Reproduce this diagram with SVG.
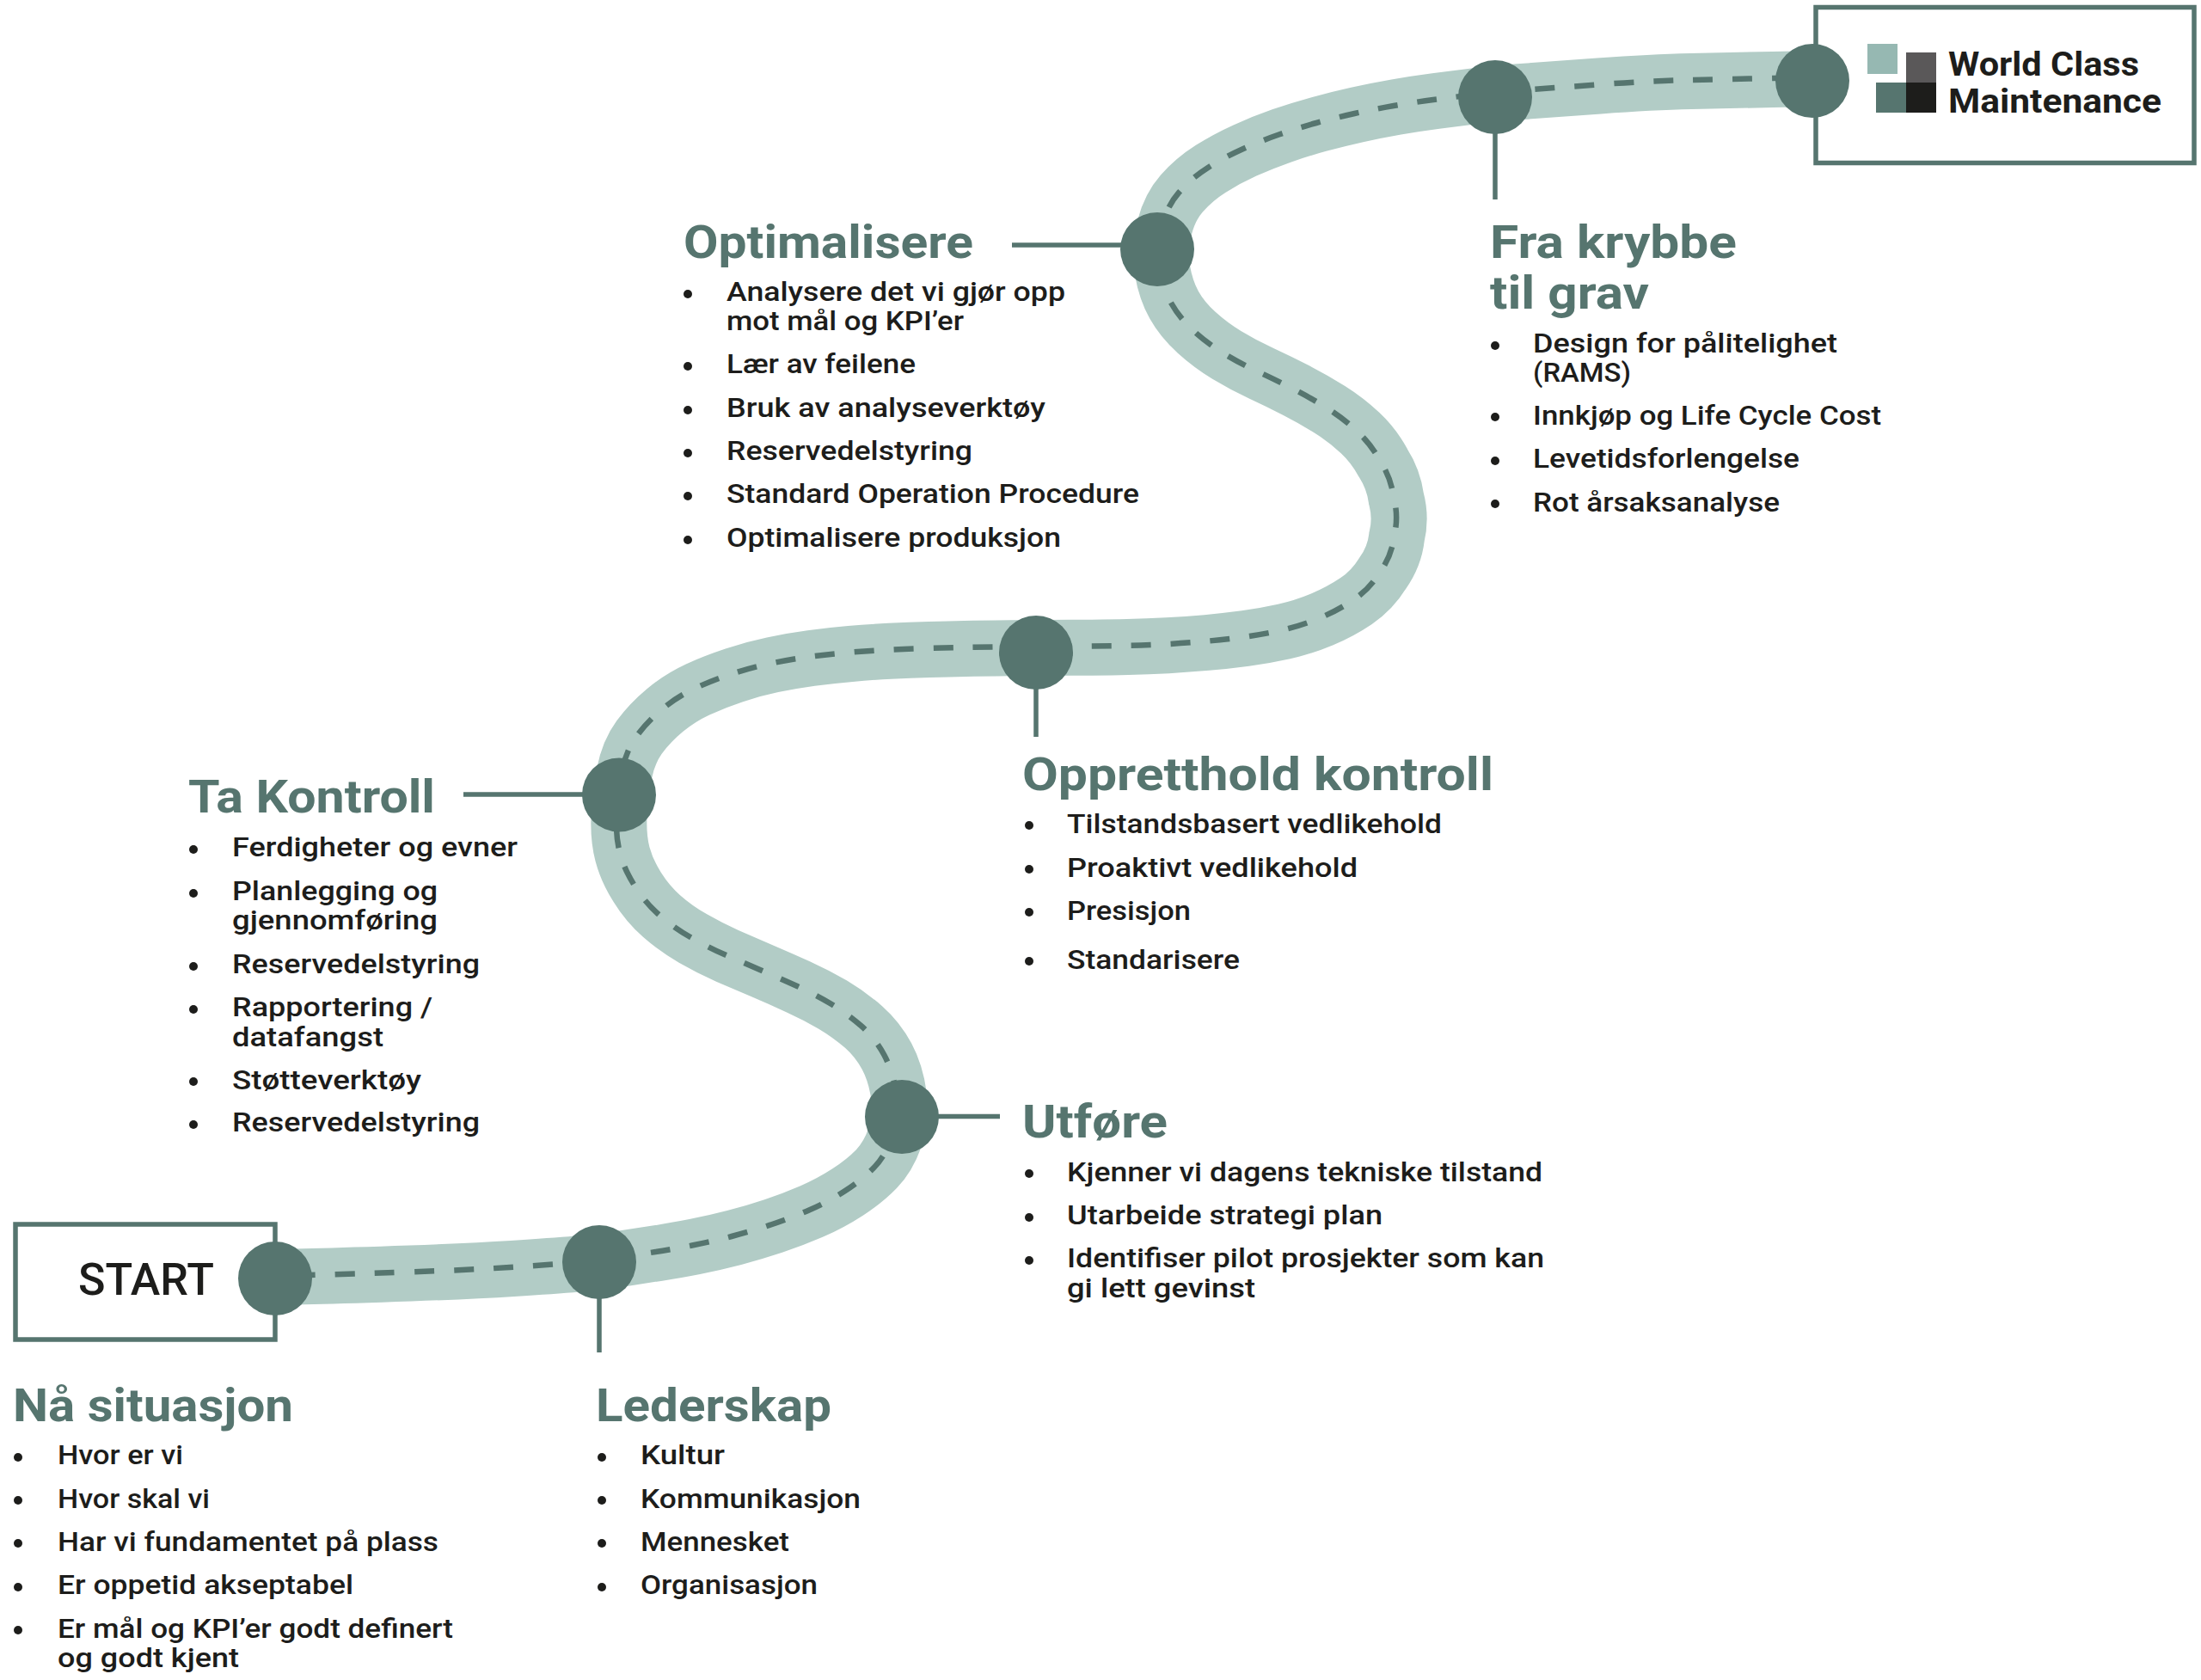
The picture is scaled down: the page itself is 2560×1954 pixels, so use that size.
<svg xmlns="http://www.w3.org/2000/svg" width="2560" height="1954" viewBox="0 0 2560 1954">
<style>
text{font-family:"Roboto","Liberation Sans",sans-serif}
.h{font-size:54px;font-weight:700;fill:#56756f}
.t{font-size:32px;font-weight:500;fill:#1d1d1b}
.b{fill:#1d1d1b}
.n{fill:#56756f}
.box{fill:#fff;stroke:#56756f;stroke-width:5.5}
.c{fill:none;stroke:#56756f;stroke-width:5.5}
</style>
<defs>
<path id="route" fill="none" d="M319 1484L361 1483Q403 1482 474.5 1479.5Q546 1477 593 1474Q640 1471 668.5 1468.5Q697 1466 720 1462.5Q743 1459 762.5 1456Q782 1453 805 1448.5Q828 1444 851 1438Q874 1432 896.5 1424.5Q919 1417 941 1407.5Q963 1398 983 1385Q1003 1372 1016.5 1358Q1030 1344 1038 1321.5Q1050 1299 1042.5 1273Q1039 1247 1028.5 1227.3Q1018 1207.6 1001.5 1193Q985 1178.6 965.5 1167Q946 1155.6 925.5 1146.3Q905 1137 884 1128Q863 1119 843 1110.3Q823 1101.5 803 1090Q783 1078.6 766.5 1064Q750 1049.5 738 1030Q726 1011 721 992Q716 973 717 948.5Q718 924 723 898.5Q728 873 740.5 856Q753 839 770.5 824.5Q788 810 808.5 800.5Q829 791 851 783.8Q873 776.5 895.5 771.8Q918 767 940.5 764Q963 761 986 759Q1009 757 1032 755.8Q1055 754.6 1078 754Q1101 753.6 1119.5 753Q1138 752.5 1171.5 752.2Q1205 752 1245 751.8Q1285 751.6 1308.5 751Q1332 750.6 1355 749.3Q1378 748 1400.5 746Q1423 744 1445.5 741Q1468 738 1490.5 733Q1513 728 1534.5 719Q1556 710 1574.5 697.5Q1593 685 1605 665.5Q1619 646 1621.5 623.5Q1627 601 1621 578.5Q1618 556 1605.5 536.5Q1595 517 1579 502Q1563 487 1544 475Q1525 463 1504.5 452.5Q1484 442 1463.5 432.5Q1443 423 1424 411.5Q1405 400 1388.5 385Q1372 370 1362.5 353Q1353 336 1349 313Q1345 290 1351 265Q1357 240 1371.5 223.5Q1386 207 1405 195Q1424 183 1445 173.5Q1466 164 1487.5 156.5Q1509 149 1531 143Q1553 137 1575.5 132Q1598 127 1621 123Q1644 119 1667 116Q1690 113 1714.5 110Q1739 107 1767.5 105Q1796 103 1857 98.5Q1918 94 1964 93Q2010 92 2059 91L2108 90"/>
</defs>
<rect width="2560" height="1954" fill="#fff"/>
<g id="box-start"><rect class="box" x="18" y="1424" width="302" height="134"/><text x="91" y="1506" font-size="52" font-weight="500" fill="#1d1d1b" textLength="158" lengthAdjust="spacingAndGlyphs">START</text></g>
<g id="box-wcm"><rect class="box" x="2112" y="8.5" width="440" height="181"/>
<rect x="2172" y="51" width="35" height="35" fill="#96b8b2"/><rect x="2217" y="61" width="35" height="35" fill="#5a5859"/><rect x="2182" y="96" width="35" height="35" fill="#56756f"/><rect x="2217" y="96" width="35" height="35" fill="#1d1d1b"/>
<text x="2266" y="88" font-size="39" font-weight="700" fill="#1d1d1b" textLength="222" lengthAdjust="spacingAndGlyphs">World Class</text>
<text x="2266" y="131" font-size="39" font-weight="700" fill="#1d1d1b" textLength="248" lengthAdjust="spacingAndGlyphs">Maintenance</text></g>
<g id="connectors">
<use href="#route" stroke="#b2ccc6" stroke-width="65" transform="translate(3 1.5)"/>
<use href="#route" stroke="#56756f" stroke-width="6.5" stroke-dasharray="23 23" stroke-dashoffset="21"/>
<path class="c" d="M697 1468V1573M1049 1298.5H1163M720 924H539M1205 759V857M1346 285H1177M1739 113V232"/>
</g>
<g id="stop-1"><circle class="n" cx="320" cy="1487" r="43"/></g>
<g id="stop-2"><circle class="n" cx="697" cy="1468" r="43"/></g>
<g id="stop-3"><circle class="n" cx="1049" cy="1299" r="43"/></g>
<g id="stop-4"><circle class="n" cx="720" cy="924.5" r="43"/></g>
<g id="stop-5"><circle class="n" cx="1205" cy="759" r="43"/></g>
<g id="stop-6"><circle class="n" cx="1346" cy="290" r="43"/></g>
<g id="stop-7"><circle class="n" cx="1739" cy="113" r="43"/></g>
<g id="stop-8"><circle class="n" cx="2108" cy="94" r="43"/></g>
<g id="na-situasjon"><text class="h" x="15" y="1653" textLength="326" lengthAdjust="spacingAndGlyphs">Nå situasjon</text>
<circle class="b" cx="21" cy="1695" r="5"/><text class="t" x="67" y="1703" textLength="146" lengthAdjust="spacingAndGlyphs">Hvor er vi</text>
<circle class="b" cx="21" cy="1745" r="5"/><text class="t" x="67" y="1754" textLength="177" lengthAdjust="spacingAndGlyphs">Hvor skal vi</text>
<circle class="b" cx="21" cy="1795" r="5"/><text class="t" x="67" y="1804" textLength="443" lengthAdjust="spacingAndGlyphs">Har vi fundamentet på plass</text>
<circle class="b" cx="21" cy="1846" r="5"/><text class="t" x="67" y="1854" textLength="344" lengthAdjust="spacingAndGlyphs">Er oppetid akseptabel</text>
<circle class="b" cx="21" cy="1896" r="5"/><text class="t" x="67" y="1905" textLength="460" lengthAdjust="spacingAndGlyphs">Er mål og KPI’er godt definert</text>
<text class="t" x="67" y="1939" textLength="211" lengthAdjust="spacingAndGlyphs">og godt kjent</text></g>
<g id="lederskap"><text class="h" x="693" y="1653" textLength="274" lengthAdjust="spacingAndGlyphs">Lederskap</text>
<circle class="b" cx="700" cy="1695" r="5"/><text class="t" x="745" y="1703" textLength="98" lengthAdjust="spacingAndGlyphs">Kultur</text>
<circle class="b" cx="700" cy="1745" r="5"/><text class="t" x="745" y="1754" textLength="256" lengthAdjust="spacingAndGlyphs">Kommunikasjon</text>
<circle class="b" cx="700" cy="1795" r="5"/><text class="t" x="745" y="1804" textLength="173" lengthAdjust="spacingAndGlyphs">Mennesket</text>
<circle class="b" cx="700" cy="1846" r="5"/><text class="t" x="745" y="1854" textLength="206" lengthAdjust="spacingAndGlyphs">Organisasjon</text></g>
<g id="utfore"><text class="h" x="1189" y="1323" textLength="169" lengthAdjust="spacingAndGlyphs">Utføre</text>
<circle class="b" cx="1197" cy="1365" r="5"/><text class="t" x="1241" y="1374" textLength="553" lengthAdjust="spacingAndGlyphs">Kjenner vi dagens tekniske tilstand</text>
<circle class="b" cx="1197" cy="1416" r="5"/><text class="t" x="1241" y="1424" textLength="367" lengthAdjust="spacingAndGlyphs">Utarbeide strategi plan</text>
<circle class="b" cx="1197" cy="1466" r="5"/><text class="t" x="1241" y="1474" textLength="555" lengthAdjust="spacingAndGlyphs">Identifiser pilot prosjekter som kan</text>
<text class="t" x="1241" y="1509" textLength="219" lengthAdjust="spacingAndGlyphs">gi lett gevinst</text></g>
<g id="ta-kontroll"><text class="h" x="219" y="945" textLength="287" lengthAdjust="spacingAndGlyphs">Ta Kontroll</text>
<circle class="b" cx="225" cy="988" r="5"/><text class="t" x="270" y="996" textLength="332" lengthAdjust="spacingAndGlyphs">Ferdigheter og evner</text>
<circle class="b" cx="225" cy="1039" r="5"/><text class="t" x="270" y="1047" textLength="239" lengthAdjust="spacingAndGlyphs">Planlegging og</text>
<text class="t" x="270" y="1081" textLength="239" lengthAdjust="spacingAndGlyphs">gjennomføring</text>
<circle class="b" cx="225" cy="1124" r="5"/><text class="t" x="270" y="1132" textLength="288" lengthAdjust="spacingAndGlyphs">Reservedelstyring</text>
<circle class="b" cx="225" cy="1174" r="5"/><text class="t" x="270" y="1182" textLength="233" lengthAdjust="spacingAndGlyphs">Rapportering /</text>
<text class="t" x="270" y="1217" textLength="176" lengthAdjust="spacingAndGlyphs">datafangst</text>
<circle class="b" cx="225" cy="1258" r="5"/><text class="t" x="270" y="1267" textLength="220" lengthAdjust="spacingAndGlyphs">Støtteverktøy</text>
<circle class="b" cx="225" cy="1308" r="5"/><text class="t" x="270" y="1316" textLength="288" lengthAdjust="spacingAndGlyphs">Reservedelstyring</text></g>
<g id="oppretthold"><text class="h" x="1189" y="919" textLength="548" lengthAdjust="spacingAndGlyphs">Oppretthold kontroll</text>
<circle class="b" cx="1197" cy="960" r="5"/><text class="t" x="1241" y="969" textLength="436" lengthAdjust="spacingAndGlyphs">Tilstandsbasert vedlikehold</text>
<circle class="b" cx="1197" cy="1011" r="5"/><text class="t" x="1241" y="1020" textLength="338" lengthAdjust="spacingAndGlyphs">Proaktivt vedlikehold</text>
<circle class="b" cx="1197" cy="1061" r="5"/><text class="t" x="1241" y="1070" textLength="144" lengthAdjust="spacingAndGlyphs">Presisjon</text>
<circle class="b" cx="1197" cy="1118" r="5"/><text class="t" x="1241" y="1127" textLength="201" lengthAdjust="spacingAndGlyphs">Standarisere</text></g>
<g id="optimalisere"><text class="h" x="795" y="300" textLength="337" lengthAdjust="spacingAndGlyphs">Optimalisere</text>
<circle class="b" cx="800" cy="342" r="5"/><text class="t" x="845" y="350" textLength="394" lengthAdjust="spacingAndGlyphs">Analysere det vi gjør opp</text>
<text class="t" x="845" y="384" textLength="276" lengthAdjust="spacingAndGlyphs">mot mål og KPI’er</text>
<circle class="b" cx="800" cy="426" r="5"/><text class="t" x="845" y="434" textLength="220" lengthAdjust="spacingAndGlyphs">Lær av feilene</text>
<circle class="b" cx="800" cy="477" r="5"/><text class="t" x="845" y="485" textLength="371" lengthAdjust="spacingAndGlyphs">Bruk av analyseverktøy</text>
<circle class="b" cx="800" cy="527" r="5"/><text class="t" x="845" y="535" textLength="286" lengthAdjust="spacingAndGlyphs">Reservedelstyring</text>
<circle class="b" cx="800" cy="577" r="5"/><text class="t" x="845" y="585" textLength="480" lengthAdjust="spacingAndGlyphs">Standard Operation Procedure</text>
<circle class="b" cx="800" cy="628" r="5"/><text class="t" x="845" y="636" textLength="389" lengthAdjust="spacingAndGlyphs">Optimalisere produksjon</text></g>
<g id="fra-krybbe"><text class="h" x="1733" y="300" textLength="287" lengthAdjust="spacingAndGlyphs">Fra krybbe</text>
<text class="h" x="1733" y="359" textLength="185" lengthAdjust="spacingAndGlyphs">til grav</text>
<circle class="b" cx="1739" cy="402" r="5"/><text class="t" x="1783" y="410" textLength="354" lengthAdjust="spacingAndGlyphs">Design for pålitelighet</text>
<text class="t" x="1783" y="444" textLength="114" lengthAdjust="spacingAndGlyphs">(RAMS)</text>
<circle class="b" cx="1739" cy="485" r="5"/><text class="t" x="1783" y="494" textLength="405" lengthAdjust="spacingAndGlyphs">Innkjøp og Life Cycle Cost</text>
<circle class="b" cx="1739" cy="536" r="5"/><text class="t" x="1783" y="544" textLength="310" lengthAdjust="spacingAndGlyphs">Levetidsforlengelse</text>
<circle class="b" cx="1739" cy="586" r="5"/><text class="t" x="1783" y="595" textLength="287" lengthAdjust="spacingAndGlyphs">Rot årsaksanalyse</text></g>
</svg>
